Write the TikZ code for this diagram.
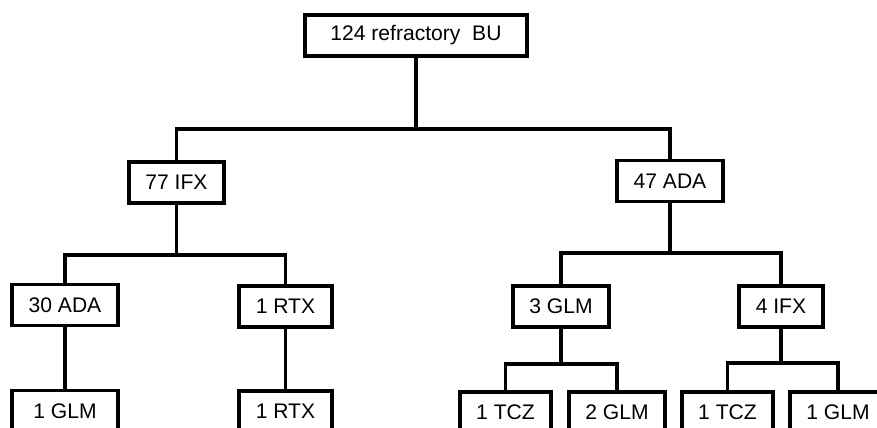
\documentclass[tikz,border=0pt]{standalone}
\usepackage{fontspec}
\setmainfont{Liberation Sans}
\usepackage{tikz}
\usetikzlibrary{
  positioning,
  calc,
}

\begin{document}
\begin{tikzpicture}[
  x=0.02cm, y=-0.02cm,
  font=\fontsize{12}{14}\selectfont,
  box/.style={draw, line width=2pt, minimum height=0.82cm, inner sep=0pt},
  link/.style={line width=2pt},
]
  \useasboundingbox (0,0) rectangle (877,428);
  \clip (0,0) rectangle (877,428);

  % Root
  \node[box, minimum width=4.44cm] (root) at (416,35.5) {124 refractory\ \ BU};

  % First line of therapy
  \node[box, minimum width=1.90cm] (ifx77) at (176.5,182.5) {77 IFX};
  \node[box, minimum width=2.12cm] (ada47) at (670,181)     {47 ADA};

  % Second line
  \node[box, minimum width=2.12cm] (ada30) at (65,305)      {30 ADA};
  \node[box, minimum width=1.86cm] (rtxa)  at (285.5,306.5) {1 RTX};
  \node[box, minimum width=1.92cm] (glm3)  at (561,306.5)   {3 GLM};
  \node[box, minimum width=1.68cm] (ifx4)  at (781,306.5)   {4 IFX};

  % Third line
  \node[box, minimum width=2.12cm] (glma)  at (65,411)      {1 GLM};
  \node[box, minimum width=1.86cm] (rtxb)  at (285.5,411.5) {1 RTX};
  \node[box, minimum width=1.82cm] (tcza)  at (505.5,412.5) {1 TCZ};
  \node[box, minimum width=1.92cm] (glm2)  at (617,412.5)   {2 GLM};
  \node[box, minimum width=1.82cm] (tczb)  at (727.5,412.5) {1 TCZ};
  \node[box, minimum width=1.92cm] (glmb)  at (838,412.5)   {1 GLM};

  % Branching connectors: stem, then bar down to both children
  \foreach \p/\d/\l/\r in {root/71/ifx77/ada47,
                           ifx77/50/ada30/rtxa,
                           ada47/50/glm3/ifx4,
                           glm3/35/tcza/glm2,
                           ifx4/34/tczb/glmb}
  {
    \draw[link] (\p.south) -- ++(0,\d) coordinate (j-\p);
    \draw[link] (\l.north) |- (j-\p) -| (\r.north);
  }

  % Straight connectors
  \draw[link] (ada30) -- (glma);
  \draw[link] (rtxa) -- (rtxb);
\end{tikzpicture}
\end{document}
